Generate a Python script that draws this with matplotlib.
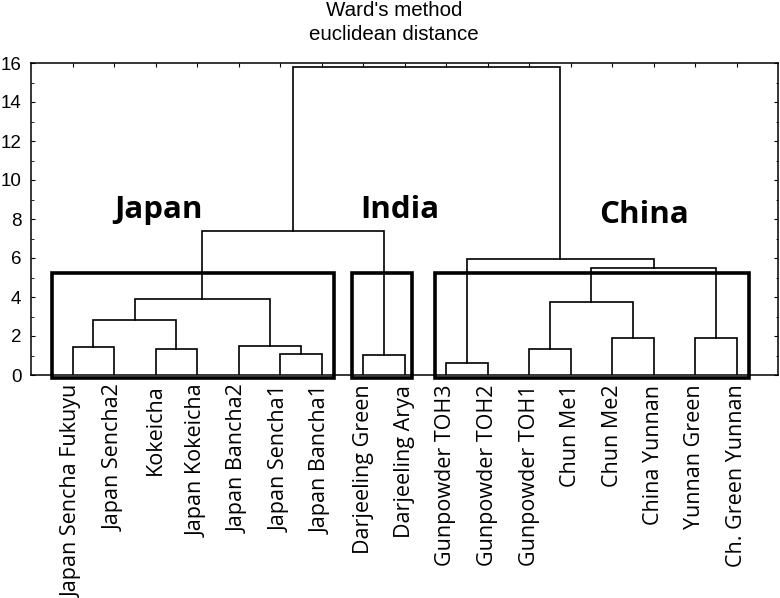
import matplotlib
matplotlib.use('Agg')
import matplotlib.pyplot as plt
from matplotlib.patches import Rectangle
from matplotlib.ticker import MultipleLocator

# Leaves of the dendrogram (left to right)
leaves = ['Japan Sencha Fukuyu', 'Japan Sencha2', 'Kokeicha', 'Japan Kokeicha',
          'Japan Bancha2', 'Japan Sencha1', 'Japan Bancha1',
          'Darjeeling Green', 'Darjeeling Arya',
          'Gunpowder TOH3', 'Gunpowder TOH2', 'Gunpowder TOH1', 'Chun Me1',
          'Chun Me2', 'China Yunnan', 'Yunnan Green', 'Ch. Green Yunnan']

# Merges, scipy style: node ids 0..16 are leaves, 17.. are merged clusters
merge_left = [0, 2, 17, 5, 4, 19, 7, 22, 9, 11, 13, 26, 15, 28, 25, 24]
merge_right = [1, 3, 18, 6, 20, 21, 8, 23, 10, 12, 14, 27, 16, 29, 30, 31]
merge_height = [1.42, 1.35, 2.84, 1.06, 1.47, 3.91, 1.01, 7.38,
                0.60, 1.35, 1.90, 3.73, 1.90, 5.47, 5.95, 15.8]

# Highlighted groups
group_names = ['Japan', 'India', 'China']
group_x0 = [0.5, 7.74, 9.74]
group_x1 = [7.3, 9.18, 17.3]
group_label_x = [3.08, 8.89, 14.77]
group_label_y = [8.05, 8.05, 7.8]

fig = plt.figure(figsize=(7.8, 5.98), dpi=100)
ax = fig.add_axes([31 / 780, 1 - 375 / 598, 747 / 780, 312 / 598])

# node positions
xs = [i + 1 for i in range(len(leaves))]
hs = [0.0] * len(leaves)
for a, b, h in zip(merge_left, merge_right, merge_height):
    ax.plot([xs[a], xs[a], xs[b], xs[b]], [hs[a], h, h, hs[b]],
            color='black', lw=1.2, solid_joinstyle='miter')
    xs.append((xs[a] + xs[b]) / 2)
    hs.append(h)

# group boxes and names
for name, x0, x1, lx, ly in zip(group_names, group_x0, group_x1, group_label_x, group_label_y):
    ax.add_patch(Rectangle((x0, -0.17), x1 - x0, 5.42, fill=False, lw=2.6,
                           edgecolor='black', clip_on=False, zorder=5))
    ax.text(lx, ly, name, ha='center', va='baseline', fontsize=22.5,
            fontweight='bold', family='Open Sans')

ax.set_xlim(0, 18)
ax.set_ylim(0, 16)
ax.set_xticks(range(1, len(leaves) + 1))
ax.set_xticklabels(leaves, rotation=90, family='Open Sans', fontsize=15.5)
ax.yaxis.set_major_locator(MultipleLocator(2))
ax.yaxis.set_minor_locator(MultipleLocator(1))
ax.tick_params(axis='x', direction='in', top=True, bottom=False, length=3, pad=7)
ax.tick_params(axis='y', which='both', direction='in', left=True, right=True)
ax.tick_params(axis='y', which='major', length=3, labelsize=13.5, pad=7)
ax.tick_params(axis='y', which='minor', length=1.8)
for lab in ax.get_yticklabels():
    lab.set_family('Liberation Sans')
for s in ax.spines.values():
    s.set_linewidth(1.1)

fig.text(394 / 780, 1 - 1 / 598, "Ward's method\neuclidean distance", ha='center', va='top',
         fontsize=14.8, family='Liberation Sans', linespacing=1.32)

fig.savefig('out.png', dpi=100)
